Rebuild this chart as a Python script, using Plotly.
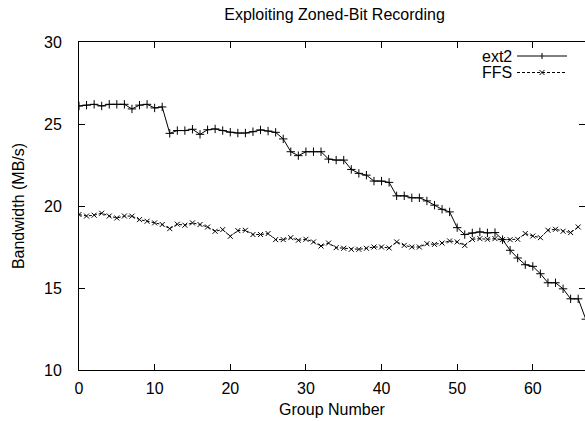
import plotly.graph_objects as go

# ---- data ----
group = list(range(0, 68))
ext2 = [26.10, 26.15, 26.20, 26.10, 26.20, 26.20, 26.20, 25.92, 26.15, 26.20,
        25.98, 26.04, 24.43, 24.60, 24.60, 24.68, 24.37, 24.65, 24.70, 24.60,
        24.50, 24.45, 24.45, 24.53, 24.64, 24.57, 24.49, 24.09, 23.31, 23.07,
        23.31, 23.31, 23.31, 22.86, 22.80, 22.80, 22.23, 21.99, 21.88, 21.52,
        21.52, 21.44, 20.62, 20.62, 20.50, 20.50, 20.31, 20.05, 19.80, 19.64,
        18.68, 18.26, 18.36, 18.42, 18.36, 18.38, 17.95, 17.30, 16.83, 16.42,
        16.32, 15.87, 15.32, 15.32, 14.95, 14.34, 14.34, 13.10]
ffs = [19.48, 19.39, 19.44, 19.56, 19.39, 19.27, 19.39, 19.38, 19.17, 19.07,
       18.97, 18.87, 18.62, 18.89, 18.83, 18.97, 18.87, 18.72, 18.46, 18.56,
       18.15, 18.50, 18.52, 18.26, 18.26, 18.32, 17.95, 17.95, 18.07, 17.91,
       17.97, 17.81, 17.56, 17.74, 17.46, 17.42, 17.36, 17.36, 17.42, 17.50,
       17.50, 17.44, 17.81, 17.60, 17.50, 17.50, 17.70, 17.66, 17.74, 17.87,
       17.81, 17.60, 17.97, 18.01, 17.97, 18.01, 17.95, 17.95, 17.97, 18.32,
       18.17, 18.07, 18.52, 18.58, 18.46, 18.38, 18.72]
x_ticks = [0, 10, 20, 30, 40, 50, 60]
y_ticks = [10, 15, 20, 25, 30]

FONT = "Liberation Sans, Arial, Helvetica, sans-serif"
W, H = 585, 421
ML, MR, MT, MB = 79, 0, 42, 51

fig = go.Figure()
fig.add_trace(go.Scatter(
    x=group[:len(ext2)], y=ext2, mode="lines+markers", name="ext2",
    line=dict(color="black", width=1),
    marker=dict(symbol="cross-thin", size=6, line=dict(color="black", width=1), color="black"),
    showlegend=False))
fig.add_trace(go.Scatter(
    x=group[:len(ffs)], y=ffs, mode="lines+markers", name="FFS",
    line=dict(color="black", width=1, dash="3px,2px"),
    marker=dict(symbol="x-thin", size=5, line=dict(color="black", width=1), color="black"),
    showlegend=False))

# gnuplot-style legend (text then sample), in paper coordinates
pw = W - ML - MR
ph = H - MT - MB
def px(xp):
    return (xp - ML) / pw
def py(yp):
    return 1 - (yp - MT) / ph

legend_rows = [("ext2", 56, "solid", "plus"), ("FFS", 72.5, "3px,2px", "x")]
for name, yc, dash, sym in legend_rows:
    fig.add_annotation(x=px(514), y=py(yc), xref="paper", yref="paper",
                       text=name, showarrow=False, xanchor="right", yanchor="middle",
                       font=dict(family=FONT, size=16, color="black"))
    fig.add_shape(type="line", xref="paper", yref="paper",
                  x0=px(517), x1=px(567), y0=py(yc), y1=py(yc),
                  line=dict(color="black", width=1, dash=dash))
    mx = 542
    if sym == "plus":
        fig.add_shape(type="line", xref="paper", yref="paper",
                      x0=px(mx), x1=px(mx), y0=py(yc - 3), y1=py(yc + 3),
                      line=dict(color="black", width=1))
    else:
        fig.add_shape(type="line", xref="paper", yref="paper",
                      x0=px(mx - 2.5), x1=px(mx + 2.5), y0=py(yc - 2.5), y1=py(yc + 2.5),
                      line=dict(color="black", width=1))
        fig.add_shape(type="line", xref="paper", yref="paper",
                      x0=px(mx - 2.5), x1=px(mx + 2.5), y0=py(yc + 2.5), y1=py(yc - 2.5),
                      line=dict(color="black", width=1))

fig.update_layout(
    width=W, height=H,
    margin=dict(l=ML, r=MR, t=MT, b=MB, pad=0),
    paper_bgcolor="white", plot_bgcolor="white",
    font=dict(family=FONT, size=16, color="black"),
    title=dict(text="Exploiting Zoned-Bit Recording", x=334.5 / W, xanchor="center",
               y=1 - 14 / H, yanchor="middle", font=dict(family=FONT, size=16, color="black")),
    xaxis=dict(range=[0, 66.9], tickvals=x_ticks, ticks="inside", ticklen=6,
               tickcolor="black", showline=True, linecolor="black", linewidth=1,
               mirror="allticks", showgrid=False, zeroline=False,
               ticklabelstandoff=4,
               tickfont=dict(family=FONT, size=16, color="black"),
               title=dict(text="Group Number", standoff=7,
                          font=dict(family=FONT, size=16, color="black"))),
    yaxis=dict(range=[10, 30], tickvals=y_ticks, ticks="inside", ticklen=6,
               tickcolor="black", showline=True, linecolor="black", linewidth=1,
               mirror="allticks", showgrid=False, zeroline=False,
               ticklabelstandoff=13,
               tickfont=dict(family=FONT, size=16, color="black"),
               title=dict(text="Bandwidth (MB/s)", standoff=15,
                          font=dict(family=FONT, size=16, color="black"))),
)

fig.write_html("out.html")
